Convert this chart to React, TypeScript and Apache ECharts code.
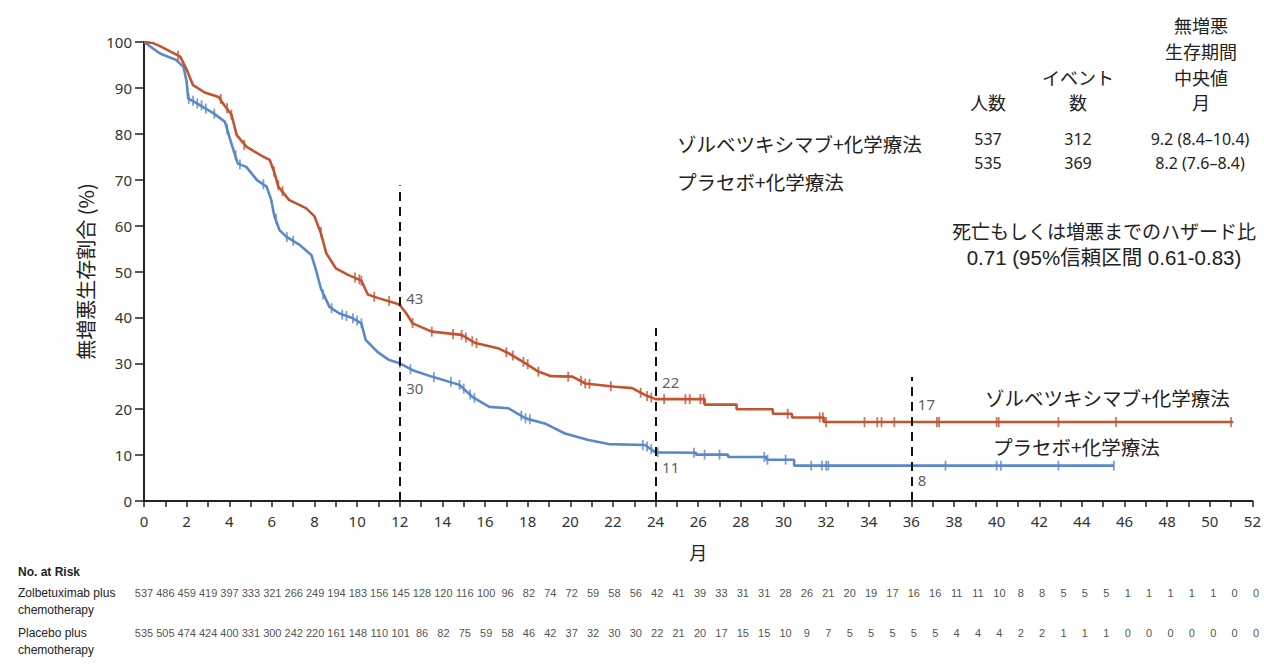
import React, { useEffect, useRef } from 'react';
import * as echarts from 'echarts';

// ---------- data ----------
const zolbCurve: [number, number][] = [
  [0, 100], [0.4, 99.8], [0.8, 99], [1.2, 98], [1.7, 96.8], [2.0, 94], [2.3, 90.6], [2.85, 89],
  [3.5, 88], [3.8, 86], [4.1, 84.2], [4.35, 79.7], [4.8, 77.2], [5.6, 75], [5.9, 74.3], [6.1, 71.8],
  [6.3, 68.5], [6.8, 65.6], [7.6, 63.8], [8.0, 62], [8.3, 58.3], [8.55, 54], [9.0, 50.7], [9.6, 49.2],
  [10.2, 48], [10.5, 45], [11.0, 44.2], [11.8, 43.1], [12.0, 42.7], [12.3, 40.9], [12.6, 38.7],
  [13.5, 36.9], [14.9, 36.2], [15.55, 34.4], [16.6, 33.3], [17.1, 32.2], [17.9, 30], [18.5, 28.2],
  [19.1, 27.2], [20.1, 27.1], [20.7, 25.6], [22.1, 24.9], [22.9, 24.6], [23.5, 23.1], [24.0, 22.2],
  [26.3, 22.2], [26.3, 21.0], [27.8, 21.0], [27.8, 20.0], [29.5, 20.0], [29.5, 19.0], [30.4, 19.0],
  [30.4, 18.2], [31.9, 18.2], [31.9, 17.2], [51.1, 17.2],
];
const placeboCurve: [number, number][] = [
  [0, 100], [0.75, 97.5], [1.5, 96.1], [1.85, 94.6], [2.0, 91.4], [2.07, 87.7], [2.6, 86.3],
  [3.25, 84.5], [3.8, 82.6], [4.0, 79.4], [4.25, 75.7], [4.4, 73.5], [4.8, 72.8], [5.3, 69.9],
  [5.75, 68.5], [5.97, 65.6], [6.12, 62], [6.36, 59], [6.67, 57.6], [7.3, 55.8], [7.85, 53.6],
  [8.07, 50.3], [8.3, 46.3], [8.7, 42.3], [9.15, 40.9], [9.8, 39.8], [10.2, 38.7], [10.4, 35.1],
  [10.95, 32.5], [11.5, 30.7], [12.0, 30.0], [12.6, 28.5], [13.5, 27.1], [14.8, 25.3], [15.4, 22.7],
  [16.2, 20.5], [17.1, 20.2], [17.9, 18.0], [18.8, 16.9], [19.75, 14.7], [20.85, 13.3], [21.8, 12.4],
  [23.5, 12.2], [24.0, 10.6], [25.9, 10.5], [25.9, 10.1], [27.4, 10.1], [27.4, 9.6], [29.2, 9.6],
  [29.2, 9.0], [30.5, 9.0], [30.5, 7.7], [45.5, 7.7],
];
const zolbCensor: [number, number][] = [
  [1.6, 97], [3.6, 87.6], [3.9, 85.6], [4.1, 84.2], [4.7, 77.6], [6.1, 71.8], [6.3, 68.8], [6.5, 67.5],
  [8.3, 58.6], [9.9, 48.7], [10.1, 48.3], [10.2, 48], [10.8, 44.5], [11.5, 43.6], [12.6, 38.8],
  [13.5, 36.9], [14.5, 36.4], [14.9, 36.2], [15.1, 35.6], [15.4, 34.8], [15.6, 34.4], [17.0, 32.4],
  [17.3, 31.7], [17.8, 30.3], [18.0, 29.8], [18.5, 28.2], [19.9, 27.1], [20.5, 26.2], [20.7, 25.6],
  [20.9, 25.5], [21.9, 25], [23.3, 23.6], [23.6, 22.9], [23.8, 22.5], [24.4, 22.2], [25.4, 22.2],
  [25.6, 22.2], [26.1, 22.2], [26.25, 22.2], [30.2, 19.0], [31.7, 18.2], [31.85, 18.2], [32.0, 17.2],
  [33.8, 17.2], [34.4, 17.2], [34.6, 17.2], [35.2, 17.2], [37.2, 17.2], [37.3, 17.2], [40.0, 17.2],
  [40.1, 17.2], [42.9, 17.2], [45.6, 17.2], [51.0, 17.2],
];
const placeboCensor: [number, number][] = [
  [2.1, 87.6], [2.3, 87.2], [2.5, 86.6], [2.7, 86.2], [2.9, 85.5], [3.3, 84.4], [3.9, 81], [4.3, 75.3],
  [4.5, 73.3], [5.6, 69], [6.2, 61.5], [6.7, 57.5], [7.0, 56.7], [8.4, 45], [8.8, 42], [9.3, 40.6],
  [9.5, 40.3], [9.8, 39.8], [10.0, 39.3], [10.2, 38.7], [12.0, 30.0], [12.5, 28.7], [13.6, 27],
  [14.4, 26], [14.8, 25.3], [15.0, 24.5], [15.3, 23.2], [15.5, 22.5], [17.7, 18.6], [17.9, 18.0],
  [18.1, 17.8], [23.4, 12.2], [23.6, 11.9], [23.8, 11.3], [24.1, 10.6], [25.8, 10.5], [26.3, 10.1],
  [27.0, 10.1], [29.1, 9.6], [29.25, 9.0], [30.1, 9.0], [31.3, 7.7], [31.8, 7.7], [32.0, 7.7],
  [32.1, 7.7], [37.6, 7.7], [40.0, 7.7], [40.2, 7.7], [42.9, 7.7], [45.5, 7.7],
];

const landmarkMonths = [12, 24, 36];
const zolbLandmark = [43, 22, 17];
const placeboLandmark = [30, 11, 8];

const riskMonths = [
  0, 1, 2, 3, 4, 5, 6, 7, 8, 9, 10, 11, 12, 13, 14, 15, 16, 17, 18, 19, 20, 21, 22, 23, 24, 25, 26,
  27, 28, 29, 30, 31, 32, 33, 34, 35, 36, 37, 38, 39, 40, 41, 42, 43, 44, 45, 46, 47, 48, 49, 50, 51, 52,
];
const zolbAtRisk = [
  537, 486, 459, 419, 397, 333, 321, 266, 249, 194, 183, 156, 145, 128, 120, 116, 100, 96, 82, 74, 72,
  59, 58, 56, 42, 41, 39, 33, 31, 31, 28, 26, 21, 20, 19, 17, 16, 16, 11, 11, 10, 8, 8, 5, 5, 5, 1, 1,
  1, 1, 1, 0, 0,
];
const placeboAtRisk = [
  535, 505, 474, 424, 400, 331, 300, 242, 220, 161, 148, 110, 101, 86, 82, 75, 59, 58, 46, 42, 37, 32,
  30, 30, 22, 21, 20, 17, 15, 15, 10, 9, 7, 5, 5, 5, 5, 5, 4, 4, 4, 2, 2, 1, 1, 1, 0, 0, 0, 0, 0, 0, 0,
];

const armNames = ['ゾルベツキシマブ+化学療法', 'プラセボ+化学療法'];
const patients = ['537', '535'];
const events = ['312', '369'];
const medianPFS = ['9.2 (8.4–10.4)', '8.2 (7.6–8.4)'];

// ---------- layout (positions only) ----------
const LAYOUT = {
  landmarkLineTop: [68.8, 37.7, 27],
  zolbLabelY: [44.2, 25.9, 21.1],
  placeboLabelY: [24.6, 7.4, 4.6],
};

const RED = '#C3542F';
const BLUE = '#5A88CA';
const CJK = "'Noto Sans CJK JP', 'Noto Sans', sans-serif";
const NUM = "'Noto Sans', 'Open Sans', sans-serif";
const MIX = "'Liberation Sans', 'Noto Sans CJK JP', sans-serif";
const NARROW = "'Liberation Sans Narrow', 'Liberation Sans', 'DejaVu Sans Condensed', sans-serif";
const TXT = '#222';

export default function App() {
  const ref = useRef<HTMLDivElement>(null);
  useEffect(() => {
    if (!ref.current) return;
    const chart = echarts.init(ref.current, null, { renderer: 'svg' });

    const t = (x: number, y: number, text: string, size: number, align = 'center', font = CJK, weight: any = 'normal') => ({
      type: 'text', x, y,
      style: { text, fontSize: size, fontFamily: font, fill: TXT, align, verticalAlign: 'middle', fontWeight: weight },
    });

    const riskSeries = (vals: number[], row: string) => ({
      type: 'scatter', xAxisIndex: 1, yAxisIndex: 1, symbolSize: 1,
      itemStyle: { color: 'transparent' }, silent: true,
      data: vals.map((v, i) => [riskMonths[i], row, v]),
      label: {
        show: true, position: 'inside', formatter: (p: any) => String(p.value[2]),
        fontSize: 11, fontFamily: NARROW, color: TXT,
      },
    });

    const option: any = {
      animation: false,
      grid: [
        { left: 144, right: 8, top: 42, bottom: 165 },
        { left: 144, right: 8, top: 573, height: 80 },
      ],
      xAxis: [
        {
          gridIndex: 0, type: 'value', min: 0, max: 52, interval: 2,
          axisLine: { show: true, lineStyle: { color: '#222', width: 2 } },
          axisTick: { show: true, length: 6, lineStyle: { color: '#222', width: 1.5 } },
          minorTick: { show: true, splitNumber: 2, length: 6, lineStyle: { color: '#222', width: 1.5 } },
          splitLine: { show: false }, minorSplitLine: { show: false },
          axisLabel: { fontSize: 15, color: '#333', margin: 12, fontFamily: NUM },
          name: '月', nameLocation: 'middle', nameGap: 42,
          nameTextStyle: { fontSize: 18, color: TXT, fontFamily: CJK },
        },
        { gridIndex: 1, type: 'value', min: 0, max: 52, show: false },
      ],
      yAxis: [
        {
          gridIndex: 0, type: 'value', min: 0, max: 100, interval: 10,
          axisLine: { show: true, lineStyle: { color: '#222', width: 2 } },
          axisTick: { show: true, length: 9, lineStyle: { color: '#222', width: 1.5 } },
          splitLine: { show: false },
          axisLabel: { fontSize: 15, color: '#333', margin: 12, fontFamily: NUM },
          name: '無増悪生存割合 (%)', nameLocation: 'middle', nameRotate: 90, nameGap: 45,
          nameTextStyle: { fontSize: 20, color: TXT, fontFamily: CJK },
        },
        { gridIndex: 1, type: 'category', data: ['zolb', 'placebo'], inverse: true, show: false },
      ],
      series: [
        {
          type: 'line', data: placeboCurve, showSymbol: false, symbol: 'none',
          lineStyle: { color: BLUE, width: 2.6 }, itemStyle: { color: BLUE }, silent: true, z: 3,
        },
        {
          type: 'line', data: zolbCurve, showSymbol: false, symbol: 'none',
          lineStyle: { color: RED, width: 2.6 }, itemStyle: { color: RED }, silent: true, z: 3,
          markLine: {
            silent: true, symbol: ['none', 'none'], label: { show: false },
            lineStyle: { color: '#111', width: 2, type: [9, 6] },
            data: landmarkMonths.map((m, i) => [{ coord: [m, 0] }, { coord: [m, LAYOUT.landmarkLineTop[i]] }]),
          },
        },
        {
          type: 'scatter', data: placeboCensor, symbol: 'rect', symbolSize: [1.8, 10],
          itemStyle: { color: BLUE }, silent: true, z: 4,
        },
        {
          type: 'scatter', data: zolbCensor, symbol: 'rect', symbolSize: [1.8, 10],
          itemStyle: { color: RED }, silent: true, z: 4,
        },
        {
          type: 'scatter', symbolSize: 1, itemStyle: { color: 'transparent' }, silent: true, z: 5,
          data: landmarkMonths.map((m, i) => [m, LAYOUT.zolbLabelY[i], zolbLandmark[i]])
            .concat(landmarkMonths.map((m, i) => [m, LAYOUT.placeboLabelY[i], placeboLandmark[i]])),
          label: {
            show: true, position: 'right', distance: 6, formatter: (p: any) => String(p.value[2]),
            fontSize: 15, fontFamily: NUM, color: '#333',
          },
        },
        riskSeries(zolbAtRisk, 'zolb'),
        riskSeries(placeboAtRisk, 'placebo'),
      ],
      graphic: [
        // header of summary table
        t(1201, 25, '無増悪', 18),
        t(1201, 51, '生存期間', 18),
        t(1201, 77, '中央値', 18),
        t(1201, 102, '月', 18),
        t(1078, 77, 'イベント', 18),
        t(1078, 102, '数', 18),
        t(988, 102, '人数', 18),
        // rows
        t(677, 143, armNames[0], 19.5, 'left'),
        t(677, 181, armNames[1], 19.5, 'left'),
        t(988, 139, patients[0], 16, 'center', NUM),
        t(1078, 139, events[0], 16, 'center', NUM),
        t(1200, 139, medianPFS[0], 16, 'center', NUM),
        t(988, 163, patients[1], 16, 'center', NUM),
        t(1078, 163, events[1], 16, 'center', NUM),
        t(1200, 163, medianPFS[1], 16, 'center', NUM),
        // hazard ratio
        t(1104, 230, '死亡もしくは増悪までのハザード比', 19),
        t(1104, 257, '0.71 (95%信頼区間 0.61-0.83)', 20.5, 'center', MIX),
        // curve labels
        t(985, 397, armNames[0], 19.5, 'left'),
        t(993, 446, armNames[1], 19.5, 'left'),
        // risk table labels
        t(18, 572, 'No. at Risk', 12, 'left', "'Liberation Sans', sans-serif", 'bold'),
        t(18, 593, 'Zolbetuximab plus', 12, 'left', NARROW),
        t(18, 610, 'chemotherapy', 12, 'left', NARROW),
        t(18, 633, 'Placebo plus', 12, 'left', NARROW),
        t(18, 650, 'chemotherapy', 12, 'left', NARROW),
      ],
    };
    chart.setOption(option);
    return () => chart.dispose();
  }, []);
  return (
    <div
      ref={ref}
      style={{ position: 'fixed', left: 0, top: 0, width: 1264, height: 666, background: '#fff' }}
    />
  );
}
